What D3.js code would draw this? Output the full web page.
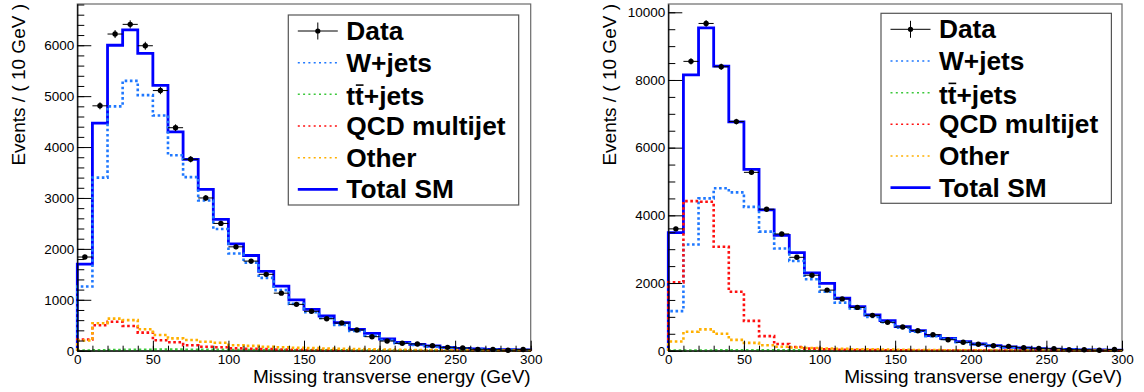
<!DOCTYPE html>
<html>
<head>
<meta charset="utf-8">
<script src="https://cdn.jsdelivr.net/npm/d3@7"></script>
<style>
  html, body { margin: 0; padding: 0; background: #fff; }
  svg { display: block; font-family: "Liberation Sans", Arial, Helvetica, sans-serif; }
</style>
</head>
<body>
<svg id="chart" width="1144" height="392"></svg>
<script>
// Lower edges of the 10 GeV missing-ET bins
const binLow = [0, 10, 20, 30, 40, 50, 60, 70, 80, 90, 100, 110, 120, 130, 140,
                150, 160, 170, 180, 190, 200, 210, 220, 230, 240, 250, 260, 270, 280, 290];
const binWidth = 10;

const xTicks = [0, 50, 100, 150, 200, 250, 300];
const yTicksLeft = [0, 1000, 2000, 3000, 4000, 5000, 6000];
const yTicksRight = [0, 2000, 4000, 6000, 8000, 10000];

const legendLabels = ["Data", "W+jets", "tt+jets", "QCD multijet", "Other", "Total SM"];

// Left panel: events per bin
const leftData   = [1840, 4810, 6220, 6410, 5990, 5110, 4380, 3760, 3000, 2500, 2040, 1760, 1500, 1130, 910,
                    774, 629, 544, 407, 275, 190, 145, 131, 98, 66, 53, 27, 26, 10, 25];
const leftTotal  = [1700, 4470, 6000, 6300, 5840, 5210, 4300, 3760, 3170, 2580, 2100, 1870, 1560, 1270, 1000,
                    813, 682, 550, 420, 341, 230, 165, 125, 92, 66, 47, 33, 25, 20, 15];
const leftWjets  = [1260, 3400, 4800, 5300, 5020, 4620, 3840, 3410, 2950, 2390, 1910, 1730, 1430, 1190, 920,
                    754, 642, 505, 387, 295, 210, 145, 112, 79, 60, 45, 32, 24, 18, 14];
const leftTtbar  = [3, 8, 14, 18, 20, 21, 21, 20, 19, 17, 15, 14, 12, 11, 10,
                    8, 7, 6, 5, 5, 4, 3, 3, 2, 2, 2, 1, 1, 1, 1];
const leftQcd    = [220, 500, 570, 485, 355, 204, 165, 106, 79, 67, 45, 38, 30, 22, 18,
                    14, 11, 9, 7, 5, 4, 3, 3, 2, 2, 2, 1, 1, 1, 1];
const leftOther  = [200, 540, 630, 600, 420, 308, 243, 210, 177, 157, 106, 94, 79, 67, 58,
                    50, 43, 37, 31, 26, 21, 17, 14, 12, 10, 8, 7, 6, 5, 4];

// Right panel: events per bin
const rightData  = [3600, 8550, 9670, 8390, 6770, 5270, 4180, 3450, 2760, 2230, 1790, 1530, 1280, 1045, 838,
                    700, 591, 473, 325, 248, 189, 148, 128, 89, 70, 60, 30, 30, 15, 35];
const rightTotal = [3490, 8150, 9540, 8410, 6760, 5360, 4160, 3410, 2900, 2300, 1990, 1550, 1300, 1055, 887,
                    710, 591, 443, 365, 266, 198, 148, 109, 80, 60, 45, 35, 25, 20, 15];
const rightWjets = [1170, 3140, 4500, 4800, 4680, 4250, 3520, 3020, 2650, 2110, 1740, 1420, 1250, 1000, 840,
                    680, 565, 425, 345, 250, 185, 140, 100, 75, 55, 42, 32, 24, 18, 14];
const rightTtbar = [1, 3, 6, 9, 11, 12, 12, 12, 11, 10, 9, 8, 7, 6, 5,
                    5, 4, 3, 3, 2, 2, 2, 1, 1, 1, 1, 1, 0, 0, 0];
const rightQcd   = [2020, 4420, 4400, 3070, 1740, 880, 430, 200, 110, 60, 40, 30, 22, 16, 12,
                    9, 7, 5, 4, 3, 2, 2, 1, 1, 1, 1, 1, 0, 0, 0];
const rightOther = [270, 560, 630, 500, 320, 232, 160, 118, 95, 80, 65, 55, 45, 38, 32,
                    27, 22, 18, 15, 12, 10, 8, 7, 6, 5, 4, 3, 3, 2, 2];

const colors = { total: "#0000ff", wjets: "#1f78ff", ttbar: "#3cc83c", qcd: "#ff1010", other: "#ffb000" };

const panels = [
  { x0: 77.3, x1: 530.7, top: 4, bottom: 350.7, ymax: 6810, yTicks: yTicksLeft, yMinor: 200,
    data: leftData, total: leftTotal, wjets: leftWjets, ttbar: leftTtbar, qcd: leftQcd, other: leftOther,
    lx: 288.3, ly: 15 },
  { x0: 668.3, x1: 1122, top: 4, bottom: 350.7, ymax: 10245, yTicks: yTicksRight, yMinor: 500,
    data: rightData, total: rightTotal, wjets: rightWjets, ttbar: rightTtbar, qcd: rightQcd, other: rightOther,
    lx: 881, ly: 13.3 }
];

const svg = d3.select("#chart");

function stepPoints(values, x, y) {
  const pts = [[x(binLow[0]), y(0)]];
  values.forEach((v, i) => {
    pts.push([x(binLow[i]), y(v)]);
    pts.push([x(binLow[i] + binWidth), y(v)]);
  });
  pts.push([x(binLow[binLow.length - 1] + binWidth), y(0)]);
  return pts;
}

panels.forEach(p => {
  const x = d3.scaleLinear().domain([0, 300]).range([p.x0, p.x1]);
  const y = d3.scaleLinear().domain([0, p.ymax]).range([p.bottom, p.top]);
  const g = svg.append("g");

  // frame
  g.append("rect")
    .attr("x", p.x0).attr("y", p.top)
    .attr("width", p.x1 - p.x0).attr("height", p.bottom - p.top)
    .attr("fill", "none").attr("stroke", "#6a6a6a").attr("stroke-width", 1.2);

  const line = d3.line();
  const plot = g.append("g");

  // Total SM (solid), then the individual contributions (dotted)
  plot.append("path")
    .attr("d", line(stepPoints(p.total, x, y)))
    .attr("fill", "none").attr("stroke", colors.total).attr("stroke-width", 2.8);

  [["wjets", p.wjets], ["ttbar", p.ttbar], ["qcd", p.qcd], ["other", p.other]].forEach(([k, vals]) => {
    plot.append("path")
      .attr("d", line(stepPoints(vals, x, y)))
      .attr("fill", "none").attr("stroke", colors[k])
      .attr("stroke-width", 2.6).attr("stroke-dasharray", "2.6 2.6");
  });

  // Data points with statistical errors
  const pts = plot.append("g").selectAll("g").data(p.data).join("g");
  pts.append("line")
    .attr("x1", (d, i) => x(binLow[i])).attr("x2", (d, i) => x(binLow[i] + binWidth))
    .attr("y1", d => y(d)).attr("y2", d => y(d))
    .attr("stroke", "#000").attr("stroke-width", 1);
  pts.append("line")
    .attr("x1", (d, i) => x(binLow[i] + binWidth / 2)).attr("x2", (d, i) => x(binLow[i] + binWidth / 2))
    .attr("y1", d => y(d + Math.sqrt(d))).attr("y2", d => y(Math.max(0, d - Math.sqrt(d))))
    .attr("stroke", "#000").attr("stroke-width", 1);
  pts.append("circle")
    .attr("cx", (d, i) => x(binLow[i] + binWidth / 2)).attr("cy", d => y(d))
    .attr("r", 2.7).attr("fill", "#000");

  // Axes with inward ticks
  const minorY = d3.range(0, p.ymax, p.yMinor);
  const minorX = d3.range(0, 301, 10);

  const yAxis = g.append("g").attr("transform", `translate(${p.x0},0)`)
    .call(d3.axisLeft(y).tickValues(p.yTicks).tickSize(-14).tickSizeOuter(0).tickPadding(3)
      .tickFormat(d3.format("d")));
  g.append("g").attr("transform", `translate(${p.x0},0)`)
    .call(d3.axisLeft(y).tickValues(minorY).tickSize(-7).tickSizeOuter(0).tickFormat(""))
    .select(".domain").remove();

  const xAxis = g.append("g").attr("transform", `translate(0,${p.bottom})`)
    .call(d3.axisBottom(x).tickValues(xTicks).tickSize(-10).tickSizeOuter(0).tickPadding(4)
      .tickFormat(d3.format("d")));
  g.append("g").attr("transform", `translate(0,${p.bottom})`)
    .call(d3.axisBottom(x).tickValues(minorX).tickSize(-5).tickSizeOuter(0).tickFormat(""))
    .select(".domain").remove();

  [yAxis, xAxis].forEach(a => {
    a.selectAll("text").attr("font-size", 13.5).attr("fill", "#000")
      .attr("font-family", "'Liberation Sans', Arial, sans-serif");
    a.select(".domain").attr("stroke", "#000").attr("stroke-width", 1.2);
  });
  g.selectAll(".tick line").attr("stroke", "#000").attr("stroke-width", 1);

  // Axis titles
  g.append("text")
    .attr("x", p.x1).attr("y", 383)
    .attr("text-anchor", "end").attr("font-size", 19).attr("fill", "#000")
    .text("Missing transverse energy (GeV)");
  g.append("text")
    .attr("transform", `translate(${p.x0 - 52},${p.top}) rotate(-90)`)
    .attr("text-anchor", "end").attr("font-size", 19).attr("fill", "#000")
    .text("Events / ( 10 GeV )");

  // Legend
  const rowH = 31.67;
  const lg = g.append("g");
  lg.append("rect")
    .attr("x", p.lx).attr("y", p.ly).attr("width", 230.4).attr("height", 190)
    .attr("fill", "#fff").attr("stroke", "#555").attr("stroke-width", 1.2);
  const sx0 = p.lx + 9.5, sx1 = p.lx + 49.5, tx = p.lx + 58;
  const fs = 26.3;
  const legendStyles = [
    { kind: "data" },
    { kind: "dot", color: colors.wjets },
    { kind: "dot", color: colors.ttbar },
    { kind: "dot", color: colors.qcd },
    { kind: "dot", color: colors.other },
    { kind: "solid", color: colors.total }
  ];
  legendLabels.forEach((lab, i) => {
    const cy = p.ly + 16 + i * rowH;
    const st = legendStyles[i];
    if (st.kind === "data") {
      lg.append("line").attr("x1", sx0).attr("x2", sx1).attr("y1", cy).attr("y2", cy)
        .attr("stroke", "#000").attr("stroke-width", 1);
      lg.append("line").attr("x1", (sx0 + sx1) / 2).attr("x2", (sx0 + sx1) / 2)
        .attr("y1", cy - 8.5).attr("y2", cy + 8.5).attr("stroke", "#000").attr("stroke-width", 1);
      lg.append("circle").attr("cx", (sx0 + sx1) / 2).attr("cy", cy).attr("r", 2.6).attr("fill", "#000");
    } else if (st.kind === "dot") {
      lg.append("line").attr("x1", sx0).attr("x2", sx1).attr("y1", cy).attr("y2", cy)
        .attr("stroke", st.color).attr("stroke-width", 1.5).attr("stroke-dasharray", "2 3.3");
    } else {
      lg.append("line").attr("x1", sx0).attr("x2", sx1).attr("y1", cy).attr("y2", cy)
        .attr("stroke", st.color).attr("stroke-width", 2.6);
    }
    const t = lg.append("text")
      .attr("x", tx).attr("y", cy + (i === 2 ? 11 : 8.9))
      .attr("font-size", fs).attr("font-weight", "bold").attr("fill", "#000")
      .text(lab);
    if (i === 2) {
      // bar over the second t of t-tbar
      const ext = t.node().getExtentOfChar(1);
      lg.append("line")
        .attr("x1", ext.x + 0.8).attr("x2", ext.x + ext.width - 0.3)
        .attr("y1", cy + 11 - fs * 0.77).attr("y2", cy + 11 - fs * 0.77)
        .attr("stroke", "#000").attr("stroke-width", 1.6);
    }
  });
});
</script>
</body>
</html>
